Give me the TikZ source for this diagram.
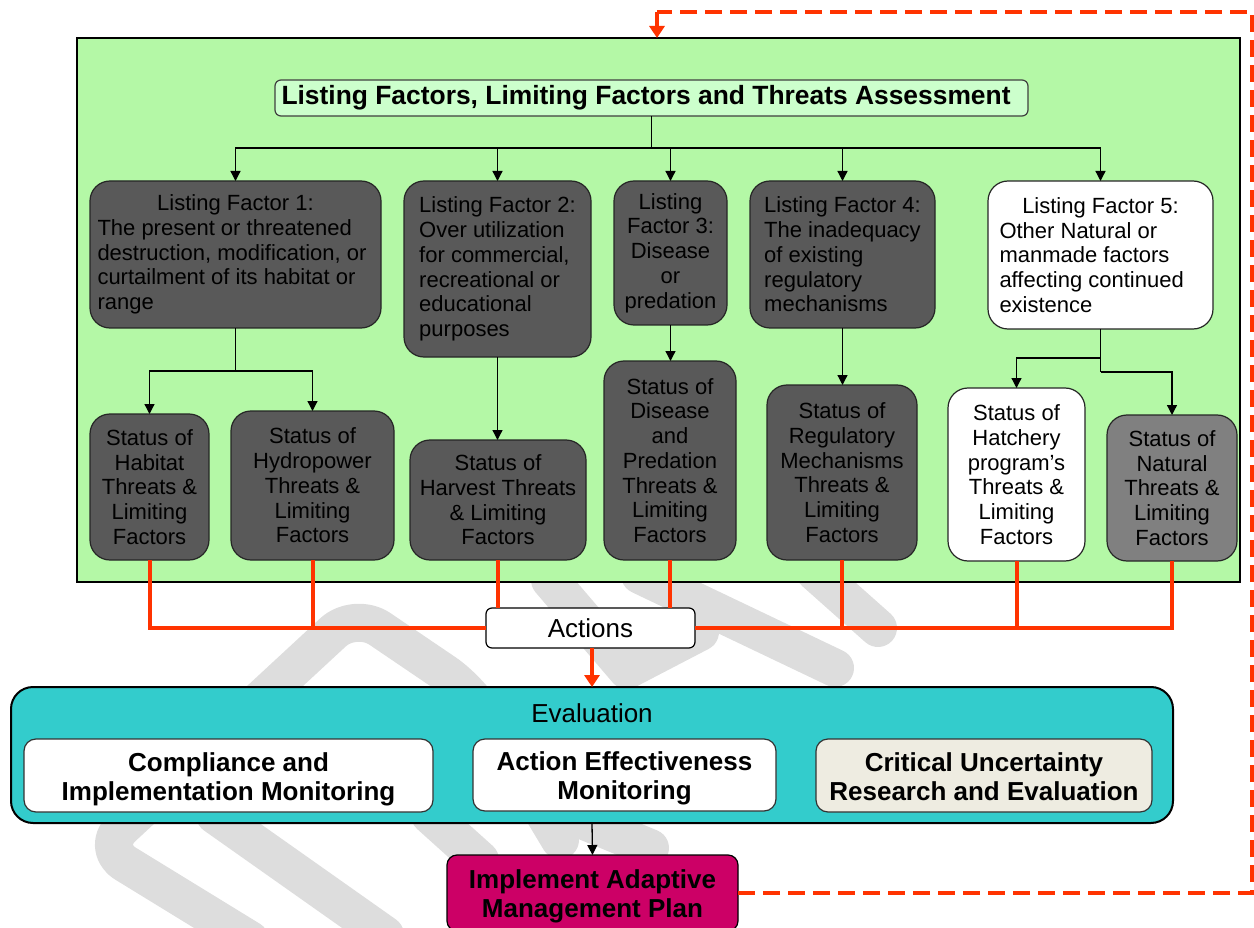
\documentclass[tikz,border=0pt]{standalone}
\usepackage{fontspec}
\setmainfont{Liberation Sans}
\usetikzlibrary{arrows.meta}
\definecolor{panelgreen}{RGB}{180,248,166}
\definecolor{titlegreen}{RGB}{204,255,204}
\definecolor{boxgrey}{RGB}{89,89,89}
\definecolor{natgrey}{RGB}{128,128,128}
\definecolor{actred}{RGB}{255,51,0}
\definecolor{evalteal}{RGB}{51,204,204}
\definecolor{cream}{RGB}{238,236,225}
\definecolor{planmagenta}{RGB}{204,0,102}
\definecolor{wmgrey}{RGB}{221,221,221}

\begin{document}
\begin{tikzpicture}[x=1pt,y=-1pt,every node/.style={inner sep=0pt,outer sep=0pt},
	lfbox/.style={draw=black!85,line width=1.2pt,fill=boxgrey,rounded corners=20pt,font=\fontsize{22}{24.7}\selectfont},
	statbox/.style={lfbox,align=center},
	boldtext/.style={align=center,font=\fontsize{26}{29}\selectfont\bfseries},
	evalsub/.style={draw=black!80,line width=1.2pt,fill=white,rounded corners=12pt,boldtext},
	treeline/.style={line width=1.3pt},
	treearrow/.style={line width=1.3pt,-{Triangle[length=10pt,width=10pt]}},
	redline/.style={actred,line width=4pt},
	redarrow/.style={actred,line width=4pt,-{Triangle[length=12pt,width=15pt]}},
	feedback/.style={actred,line width=4pt,dash pattern=on 17pt off 8pt},
	wmark/.style={wmgrey,line width=38pt,line cap=round,line join=round}]
	
	\useasboundingbox (0,0) rectangle (1254,928);
	
	% watermark
	\draw[wmark,rounded corners=30pt] (250,940) -- (100,848) -- (355,612) -- (470,690) -- (560,840);
	\draw[wmark] (215,815) -- (385,935);
	\draw[wmark] (430,815) -- (480,860);
	\draw[wmark] (570,815) -- (650,848);
	\draw[wmark] (550,580) -- (627,670) -- (700,632);
	\draw[wmark] (640,575) -- (835,668);
	\draw[wmark] (815,572) -- (878,628);
	
	\node[draw=black,line width=2pt,fill=panelgreen,minimum width=1163,minimum height=544] (panel) at (658.5,310) {};
	\node[draw=black!75,line width=1.2pt,fill=titlegreen,rounded corners=6pt,inner xsep=6.5pt,minimum height=36,text width=740,align=flush left,font=\fontsize{26.4}{29}\selectfont\bfseries] (title) at (651.5,98) {Listing Factors, Limiting Factors and Threats Assessment};
	
	\node[lfbox,align=flush left,text width=276,minimum width=291,minimum height=147] (lf1) at (235.5,254.5) {\hfill Listing Factor 1:\hfill\mbox{}\\The present or threatened\\destruction, modification, or\\curtailment of its habitat or\\range};
	\node[lfbox,align=left,minimum width=187,minimum height=176] (lf2) at (497.5,269) {Listing Factor 2:\\Over utilization\\for commercial,\\recreational or\\educational\\purposes};
	\node[lfbox,align=center,minimum width=113,minimum height=144] (lf3) at (670.5,253) {Listing\\Factor 3:\\Disease\\or\\predation};
	\node[lfbox,align=left,minimum width=185,minimum height=147] (lf4) at (842.5,254.5) {Listing Factor 4:\\The inadequacy\\of existing\\regulatory\\mechanisms};
	\node[lfbox,fill=white,align=flush left,text width=202,minimum width=225,minimum height=148] (lf5) at (1100.5,255) {\hfill Listing Factor 5:\hfill\mbox{}\\Other Natural or\\manmade factors\\affecting continued\\existence};
	
	\node[statbox,minimum width=119,minimum height=146] (shab) at (149.5,487) {Status of\\Habitat\\Threats \&\\Limiting\\Factors};
	\node[statbox,minimum width=163,minimum height=149] (shyd) at (312.5,485.5) {Status of\\Hydropower\\Threats \&\\Limiting\\Factors};
	\node[statbox,minimum width=176,minimum height=120] (sharv) at (498,500) {Status of\\Harvest Threats\\\& Limiting\\Factors};
	\node[statbox,minimum width=132,minimum height=199] (sdis) at (670,460.5) {Status of\\Disease\\and\\Predation\\Threats \&\\Limiting\\Factors};
	\node[statbox,minimum width=150,minimum height=175] (sreg) at (842,472.5) {Status of\\Regulatory\\Mechanisms\\Threats \&\\Limiting\\Factors};
	\node[statbox,fill=white,minimum width=137,minimum height=173] (shat) at (1016.5,474.5) {Status of\\Hatchery\\program’s\\Threats \&\\Limiting\\Factors};
	\node[statbox,fill=natgrey,minimum width=130,minimum height=146] (snat) at (1172,488) {Status of\\Natural\\Threats \&\\Limiting\\Factors};
	
	\draw[treeline] (title.south) -- ++(0,32) coordinate (tfork);
	\draw[treearrow] (tfork) -| (lf1.north);
	\draw[treearrow] (tfork) -| (lf2.north);
	\draw[treearrow] (tfork) -| (lf3.north);
	\draw[treearrow] (tfork) -| (lf4.north);
	\draw[treearrow] (tfork) -| (lf5.north);
	
	\draw[treeline] (lf1.south) -- ++(0,43) coordinate (f1);
	\draw[treearrow] (f1) -| (shab.north);
	\draw[treearrow] (f1) -| (shyd.north);
	\draw[treearrow] (lf2.south) -- (lf2.south |- sharv.north);
	\draw[treearrow] (lf3.south) -- (lf3.south |- sdis.north);
	\draw[treearrow] (lf4.south) -- (lf4.south |- sreg.north);
	\draw[treeline] (lf5.south) -- ++(0,29) coordinate (f5a) -- ++(0,14) coordinate (f5b);
	\draw[treearrow] (f5a) -| (shat.north);
	\draw[treearrow] (f5b) -| (snat.north);
	
	\node[draw=black,line width=1.2pt,fill=white,rounded corners=6pt,minimum width=209,minimum height=40,font=\fontsize{26}{29}\selectfont] (actions) at (590.5,628) {Actions};
	
	\draw[redline] (shab.south) |- (actions.west);
	\draw[redline] (shyd.south) -- (shyd.south |- actions.west);
	\draw[redline] (sharv.south) -- (sharv.south |- actions.north);
	\draw[redline] (sdis.south) -- (sdis.south |- actions.north);
	\draw[redline] (snat.south) |- (actions.east);
	\draw[redline] (shat.south) -- (shat.south |- actions.east);
	\draw[redline] (sreg.south) -- (sreg.south |- actions.east);
	
	\node[draw=black,line width=2pt,fill=evalteal,rounded corners=22pt,minimum width=1162,minimum height=136] (evalbox) at (592,755) {};
	\node[font=\fontsize{26}{29}\selectfont] (evallabel) at (592,713) {Evaluation};
	\node[evalsub,minimum width=409,minimum height=73] (comply) at (228.5,775.5) {\rule{0pt}{26pt}Compliance and\\Implementation Monitoring\rule[-6pt]{0pt}{0pt}};
	\node[evalsub,minimum width=303,minimum height=72] (effect) at (624.5,775) {\rule{0pt}{26pt}Action Effectiveness\\Monitoring\rule[-6pt]{0pt}{0pt}};
	\node[evalsub,fill=cream,minimum width=336,minimum height=73] (uncert) at (984,775.5) {\rule{0pt}{26pt}Critical Uncertainty\\Research and Evaluation\rule[-6pt]{0pt}{0pt}};
	
	\draw[redarrow] (actions.south -| evalbox.north) -- (evalbox.north);
	
	\node[draw=black,line width=1.2pt,fill=planmagenta,rounded corners=10pt,minimum width=291,minimum height=76,boldtext] (plan) at (592.5,893) {\rule{0pt}{26pt}Implement Adaptive\\Management Plan\rule[-6pt]{0pt}{0pt}};
	\draw[treearrow] (evalbox.south) -- (plan.north);
	
	\coordinate (fbtop) at (657,12);
	\draw[feedback] (plan.east) -| (1252,12) -- (fbtop);
	\draw[redarrow] (fbtop) -- (fbtop |- panel.north);
\end{tikzpicture}
\end{document}
